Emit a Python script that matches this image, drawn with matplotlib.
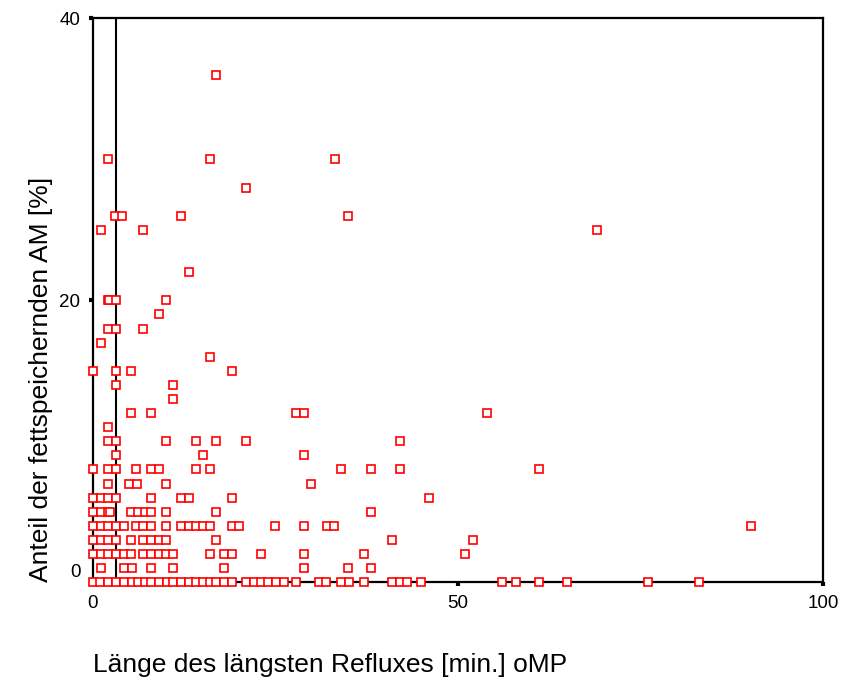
import numpy as np
import matplotlib.pyplot as plt
from matplotlib.transforms import ScaledTranslation

plt.rcParams['font.family'] = ['Liberation Sans', 'DejaVu Sans']

# points, grouped by y value (share of fat-storing AM, %)
rows = {
    36: [16.8],
    30: [2.05, 16.1, 33.1],
    28: [20.9],
    26: [3.0, 4.0, 12.0, 35.0],
    25: [1.05, 6.9, 69.0],
    22: [13.1],
    20: [2.0, 2.2, 3.15, 10.0],
    19: [9.0],
    18: [2.1, 3.15, 6.9],
    17: [1.05],
    16: [16.1],
    15: [0.0, 3.1, 5.2, 19.0],
    14: [3.1, 11.0],
    13: [11.0],
    12: [5.2, 8.0, 27.8, 28.9, 54.0],
    11: [2.1],
    10: [2.1, 3.2, 10.0, 14.1, 16.9, 21.0, 42.0],
    9: [3.15, 15.1, 28.9],
    8: [0.0, 2.1, 3.2, 5.9, 8.0, 9.1, 14.1, 16.1, 34.0, 38.1, 42.0, 61.1],
    7: [2.1, 5.0, 6.0, 10.0, 29.9],
    6: [0.0, 1.05, 2.1, 3.2, 8.0, 12.0, 13.1, 19.0, 46.0],
    5: [0.0, 1.05, 2.1, 2.3, 5.2, 6.2, 7.1, 8.0, 10.0, 16.9, 38.1],
    4: [0.0, 1.05, 2.1, 3.2, 4.2, 5.9, 6.9, 8.0, 10.0, 12.1, 13.1, 14.1, 15.1,
        16.1, 19.0, 20.0, 25.0, 28.9, 32.0, 33.0, 90.1],
    3: [0.0, 1.05, 2.1, 3.2, 5.2, 6.9, 8.0, 9.1, 10.0, 16.9, 40.9, 52.0],
    2: [0.0, 1.05, 2.1, 3.2, 4.2, 5.2, 6.9, 8.0, 9.1, 10.0, 11.0, 16.1, 18.0,
        19.0, 23.0, 28.9, 37.1, 51.0],
    1: [1.05, 4.2, 5.3, 8.0, 11.0, 18.0, 28.9, 35.0, 38.1],
    0: [0.0, 1.0, 2.0, 3.2, 4.2, 5.3, 6.2, 7.1, 8.0, 9.1, 10.1, 11.0, 12.1, 13.1,
        14.1, 15.1, 16.1, 16.9, 18.0, 19.0, 21.0, 22.0, 23.0, 24.0, 25.1, 26.1,
        27.8, 30.9, 31.9, 34.0, 35.1, 37.1, 40.9, 42.0, 43.0, 45.0, 56.0, 58.0,
        61.1, 64.9, 76.0, 83.0],
}
x = np.array([v for yv, xs in rows.items() for v in xs])
y = np.array([yv for yv, xs in rows.items() for v in xs], dtype=float)

ref_x = 3.1  # vertical reference line
xticks = [0, 50, 100]
yticks = [0, 20, 40]

fig = plt.figure(figsize=(8.45, 6.85), dpi=100)
ax = fig.add_axes([0.110, 0.150, 0.864, 0.823])

ax.plot(x, y, linestyle='none', marker='s', ms=5.5, mfc='white', mec='red',
        mew=1.2, clip_on=False, zorder=3)
ax.axvline(ref_x, color='black', lw=1.5, zorder=2)

ax.set_xlim(0, 100)
ax.set_ylim(0, 40)
ax.set_xticks(xticks)
ax.set_yticks(yticks)
for s in ax.spines.values():
    s.set_linewidth(1.6)
ax.tick_params(direction='out', length=3, width=3, labelsize=13.5, pad=6)

# the 0 label on the y axis sits a bit higher in the original
lab0 = ax.get_yticklabels()[0]
lab0.set_transform(lab0.get_transform() + ScaledTranslation(0, 12 / 100, fig.dpi_scale_trans))

fig.text(0.110, 0.029, 'Länge des längsten Refluxes [min.] oMP', fontsize=19,
         ha='left', va='center')
fig.text(0.049, 0.150, 'Anteil der fettspeichernden AM [%]', fontsize=19,
         rotation=90, ha='center', va='bottom')

fig.savefig('out.png', dpi=100)
